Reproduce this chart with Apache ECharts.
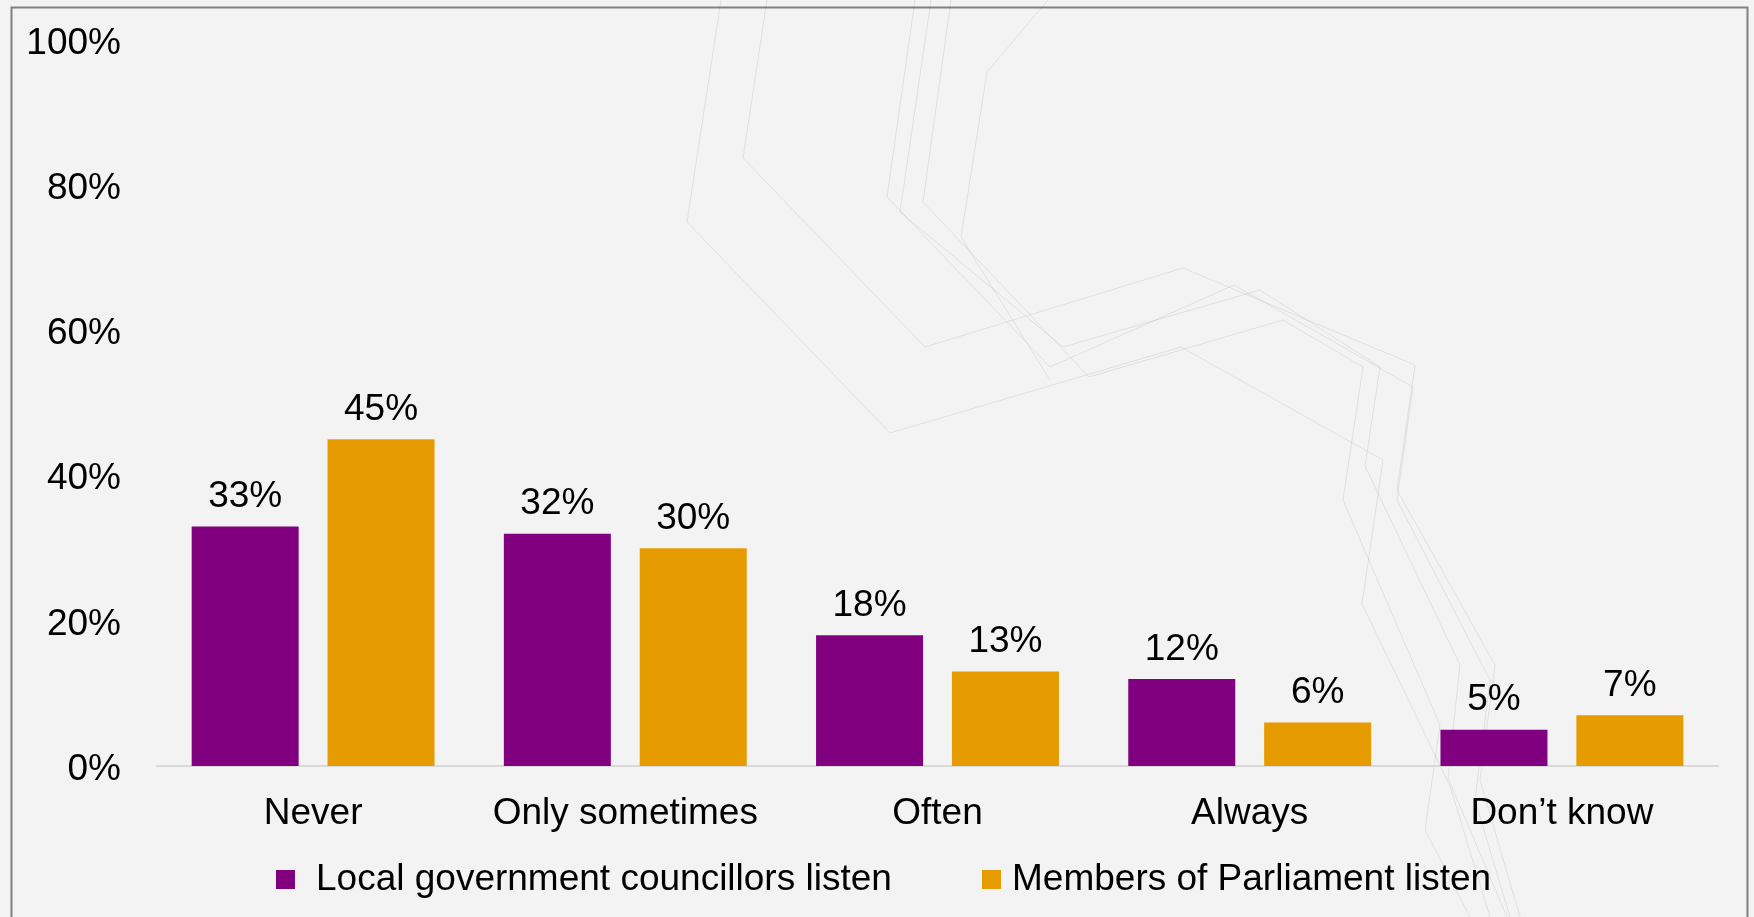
<!DOCTYPE html>
<html>
<head>
<meta charset="utf-8">
<script src="https://cdn.jsdelivr.net/npm/echarts@6/dist/echarts.min.js"></script>
<style>
  html, body { margin: 0; padding: 0; background: #f3f3f3; }
  #chart { width: 1754px; height: 917px; }
</style>
</head>
<body>
<div id="chart"></div>
<script>
const categories = ["Never", "Only sometimes", "Often", "Always", "Don\u2019t know"];
const localCouncillors = [33, 32, 18, 12, 5];
const membersOfParliament = [45, 30, 13, 6, 7];
const seriesNames = ["Local government councillors listen", "Members of Parliament listen"];
const yTicks = { min: 0, max: 100, interval: 20 };

const FONT = '"Liberation Sans", Arial, sans-serif';
const chart = echarts.init(document.getElementById('chart'));

const labelStyle = {
  show: true,
  position: 'top',
  distance: 11,
  color: '#000',
  fontSize: 37,
  fontFamily: FONT,
  formatter: '{c}%'
};

// faint decorative background lines (purely ornamental, not data)
const decoLines = [
  [[721,0],[687,222],[890,433],[1181,347],[1383,460],[1362,604],[1450,786],[1490,917]],
  [[767,0],[743,158],[925,347],[1183,268],[1415,365],[1397,490],[1495,665],[1480,780],[1520,917]],
  [[915,0],[887,197],[1050,367],[1234,285],[1413,387],[1397,500],[1490,680],[1475,800],[1510,917]],
  [[931,0],[900,212],[1063,347],[1260,290],[1380,367],[1365,466],[1460,665],[1448,778],[1507,917]],
  [[951,0],[923,202],[1089,377],[1283,320],[1363,367],[1343,500],[1440,725],[1425,830],[1470,917]],
  [[1048,0],[987,72],[961,237],[1050,380]]
];

const graphics = [{
  type: 'rect',
  left: 9, top: 5,
  shape: { width: 1736, height: 1000 },
  style: { fill: 'none', stroke: '#808080', lineWidth: 2 },
  silent: true, z: 0
}];
decoLines.forEach(pts => graphics.push({
  type: 'polyline',
  shape: { points: pts },
  style: { fill: 'none', stroke: 'rgba(0,0,0,0.08)', lineWidth: 1 },
  silent: true, z: 0
}));

const legendBase = {
  bottom: 14,
  itemWidth: 19,
  itemHeight: 19,
  icon: 'rect'
};

chart.setOption({
  backgroundColor: '#f3f3f3',
  animation: false,
  graphic: graphics,
  grid: { left: 157, right: 36, top: 40, bottom: 151, containLabel: false },
  legend: [
    Object.assign({}, legendBase, {
      left: 271,
      data: [seriesNames[0]],
      textStyle: { color: '#000', fontSize: 37, fontFamily: FONT, padding: [0, 0, 0, 16] }
    }),
    Object.assign({}, legendBase, {
      left: 977,
      data: [seriesNames[1]],
      textStyle: { color: '#000', fontSize: 37, fontFamily: FONT, padding: [0, 0, 0, 6] }
    })
  ],
  xAxis: {
    type: 'category',
    data: categories,
    axisLine: { show: true, lineStyle: { color: '#d9d9d9', width: 2 } },
    axisTick: { show: false },
    axisLabel: { color: '#000', fontSize: 37, fontFamily: FONT, margin: 29, interval: 0 }
  },
  yAxis: {
    type: 'value',
    min: yTicks.min, max: yTicks.max, interval: yTicks.interval,
    axisLine: { show: false },
    axisTick: { show: false },
    splitLine: { show: false },
    axisLabel: {
      color: '#000', fontSize: 37, fontFamily: FONT, margin: 36,
      formatter: '{a|{value}%}',
      rich: { a: { fontSize: 37, fontFamily: FONT, color: '#000', padding: [7, 0, 0, 0] } }
    }
  },
  series: [
    {
      name: seriesNames[0], type: 'bar', data: localCouncillors,
      barWidth: 107, barGap: '27%',
      itemStyle: { color: '#800080' },
      label: labelStyle
    },
    {
      name: seriesNames[1], type: 'bar', data: membersOfParliament,
      barWidth: 107,
      itemStyle: { color: '#E69C00' },
      label: labelStyle
    }
  ]
});
</script>
</body>
</html>
